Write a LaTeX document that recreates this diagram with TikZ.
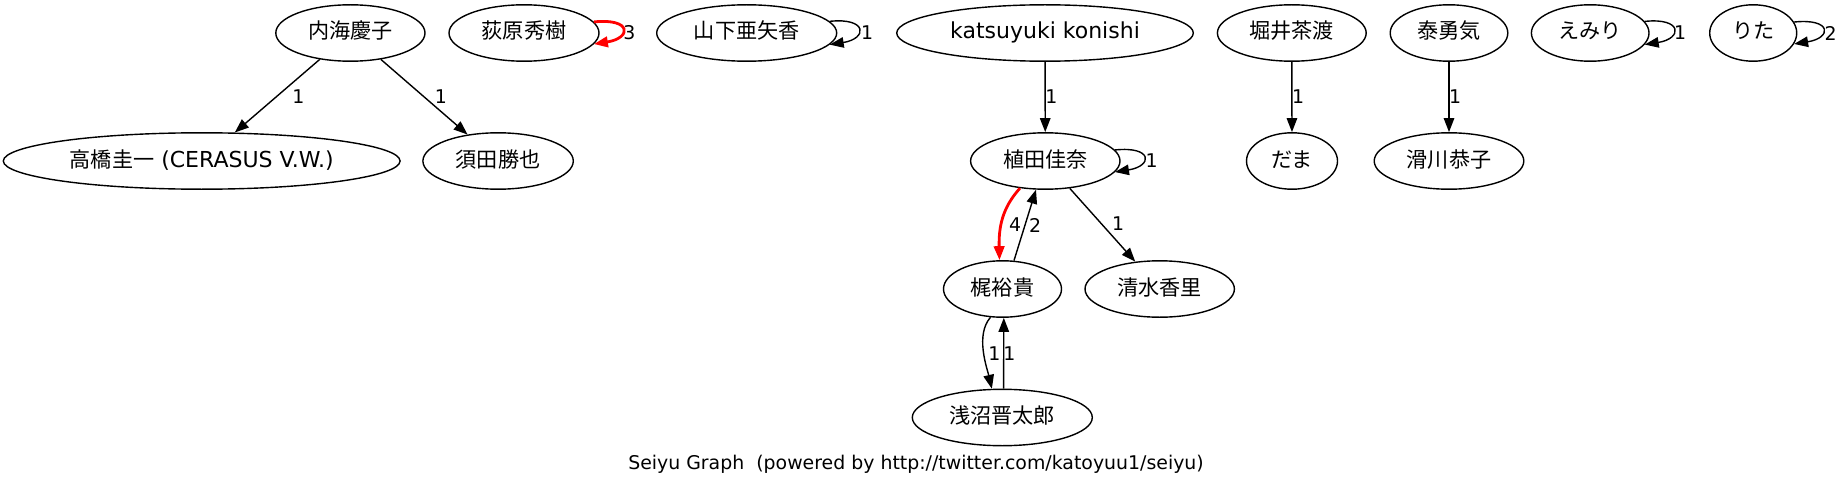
\documentclass[tikz,border=0pt]{standalone}
\usepackage{fontspec}
\setmainfont{DejaVu Sans}
\newfontfamily\jp[Scale=0.96]{Noto Sans CJK JP}
\usetikzlibrary{shapes.geometric,arrows.meta}
\definecolor{gvred}{RGB}{255,0,0}
\newcommand{\gvlbl}[1]{\makebox[0pt]{#1}}
\begin{document}
\begin{tikzpicture}[x=1pt,y=-1pt,
  nd/.style={ellipse, draw, line width=1.4pt, inner sep=0pt, minimum height=56.4pt,
    font=\fontsize{22}{26}\selectfont, text height=16.5pt, text depth=4.5pt},
  edge/.style={draw, line width=1.4pt, -{Triangle[length=14pt,width=10.5pt]}},
  rededge/.style={edge, draw=gvred, line width=2.8pt},
  lab/.style={inner sep=0pt, font=\fontsize{18.9}{22}\selectfont}
]
\useasboundingbox (0,0) rectangle (1843,484);

% nodes
\node[nd, minimum width=149.2pt] (uk) at (350.4,33) {\gvlbl{\jp 内海慶子}};
\node[nd, minimum width=150pt]   (og) at (524,33) {\gvlbl{\jp 荻原秀樹}};
\node[nd, minimum width=180pt]   (ya) at (746.7,33) {\gvlbl{\jp 山下亜矢香}};
\node[nd, minimum width=296.6pt] (kk) at (1045,33) {\gvlbl{katsuyuki konishi}};
\node[nd, minimum width=148.8pt] (hc) at (1291.8,33) {\gvlbl{\jp 堀井茶渡}};
\node[nd, minimum width=117.6pt] (ty) at (1449,33) {\gvlbl{\jp 泰勇気}};
\node[nd, minimum width=117.6pt] (em) at (1590.2,33) {\gvlbl{\jp えみり}};
\node[nd, minimum width=87pt]    (ri) at (1753.2,33) {\gvlbl{\jp りた}};
\node[nd, minimum width=396.8pt] (tk) at (201.7,161) {\gvlbl{{\jp 高橋圭一} (CERASUS V.W.)}};
\node[nd, minimum width=150.4pt] (sk) at (498.1,161) {\gvlbl{\jp 須田勝也}};
\node[nd, minimum width=149.4pt] (uh) at (1045.3,161) {\gvlbl{\jp 植田佳奈}};
\node[nd, minimum width=91pt]    (dm) at (1292,161) {\gvlbl{\jp だま}};
\node[nd, minimum width=149.6pt] (nk) at (1449,161) {\gvlbl{\jp 滑川恭子}};
\node[nd, minimum width=118pt]   (ky) at (1002.5,289) {\gvlbl{\jp 梶裕貴}};
\node[nd, minimum width=149.4pt] (sm) at (1159.7,289) {\gvlbl{\jp 清水香里}};
\node[nd, minimum width=180pt]   (as) at (1002.3,417.5) {\gvlbl{\jp 浅沼晋太郎}};

% edges
\draw[edge] (uk) -- (tk);
\draw[edge] (uk) -- (sk);
\draw[edge] (kk) -- (uh);
\draw[edge] (hc) -- (dm);
\draw[edge] (ty) -- (nk);
\draw[edge] (uh) -- (sm);
\draw[rededge] (uh.227) .. controls (1005,205) and (998.5,222) .. (ky.96);
\draw[edge] (ky.68.7) -- (uh.252.4);
\draw[edge] (ky.247.6) .. controls (975,335) and (987,368) .. (as.110.4);
\draw[edge] ([xshift=1.3pt]as.north) -- ([xshift=1.3pt]ky.south);

% self loops
\draw[rededge] (og.9.5) .. controls +(38,-4) and +(38,-6) .. (og.-9.5);
\draw[edge] (ya.8) .. controls +(38,-4) and +(38,-6) .. (ya.-8);
\draw[edge] (uh.9.6) .. controls +(38,-4) and +(38,-6) .. (uh.-9.6);
\draw[edge] (em.12) .. controls +(38,-4) and +(38,-6) .. (em.-12);
\draw[edge] (ri.15) .. controls +(38,-4) and +(38,-6) .. (ri.-15);

% edge labels
\node[lab] (l1) at (298.5,96.4) {1};
\node[lab] (l2) at (440.8,96.4) {1};
\node[lab] (l3) at (629.5,33) {3};
\node[lab] (l4) at (867,33) {1};
\node[lab] (l5) at (1051.3,96.4) {1};
\node[lab] (l6) at (1298,96.4) {1};
\node[lab] (l7) at (1455,96.4) {1};
\node[lab] (l8) at (1680,33) {1};
\node[lab] (l9) at (1830.5,33) {2};
\node[lab] (l10) at (1151.5,161) {1};
\node[lab] (l11) at (1118,224) {1};
\node[lab] (l12) at (1015,225) {4};
\node[lab] (l13) at (1035,225) {2};
\node[lab] (l14) at (994.3,353.3) {1};
\node[lab] (l15) at (1009.3,353.3) {1};

% caption
\node[lab, anchor=base] (cap) at (916,469) {Seiyu Graph\ \ (powered by http://twitter.com/katoyuu1/seiyu)};
\end{tikzpicture}
\end{document}
